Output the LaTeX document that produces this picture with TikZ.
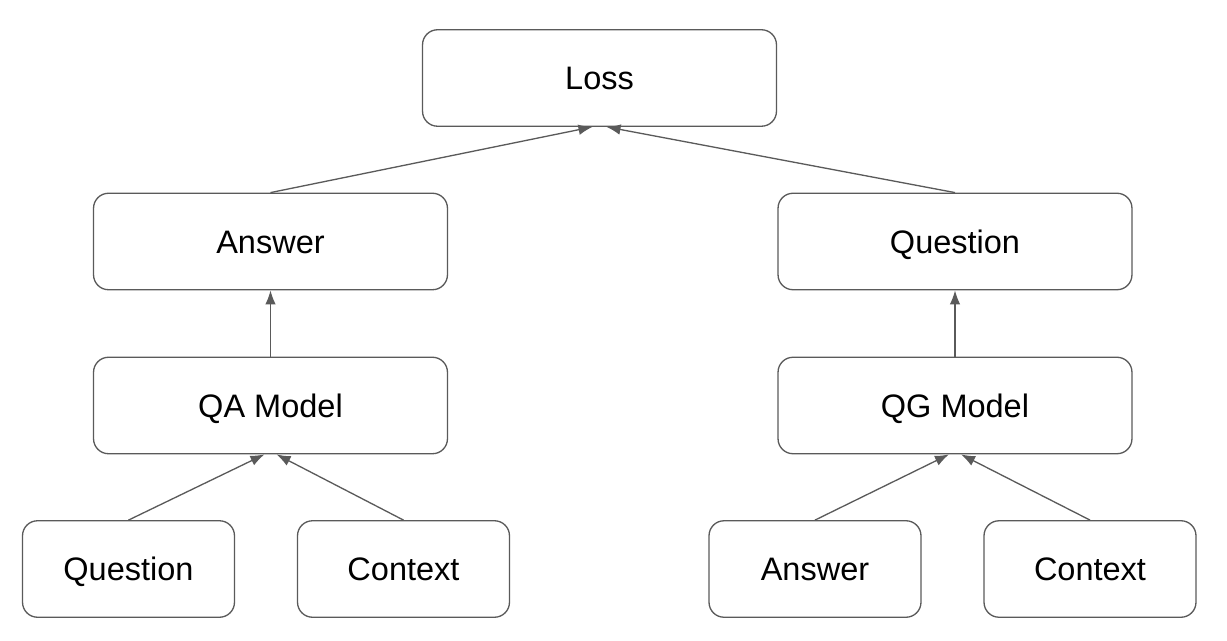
\documentclass[tikz,border=0pt]{standalone}
\usepackage{fontspec}
\setmainfont{Liberation Sans}
\usepackage{tikz}
\usetikzlibrary{arrows.meta}

\definecolor{edgegray}{HTML}{5A5A5A}

\tikzset{
    box/.style={draw=edgegray, line width=0.75pt, rounded corners=0.3cm,
        minimum width=7.08cm, minimum height=1.93cm, inner sep=0pt,
        text height=13.2pt, text depth=0pt,
        font=\fontsize{18.5}{22}\selectfont},
    smallbox/.style={box, minimum width=4.24cm},
    link/.style={draw=edgegray, line width=0.75pt}
}

\begin{document}
\begin{tikzpicture}[x=0.02cm, y=-0.02cm]

    \useasboundingbox (0,0) rectangle (1227,641);

    \node[box] (loss) at (599.5,78) {Loss};

    \node[box] (answer) at (270.5,241.5) {Answer};
    \node[box] (question) at (955,241.5) {Question};

    \node[box] (qamodel) at (270.5,405.5) {QA Model};
    \node[box] (qgmodel) at (955,405.5) {QG Model};

    \node[smallbox] (qainq) at (128.5,569) {Question};
    \node[smallbox] (qainc) at (403.5,569) {Context};
    \node[smallbox] (qgina) at (815,569) {Answer};
    \node[smallbox] (qginc) at (1090,569) {Context};

    \draw[link,->,>={Latex[length=8pt,width=6pt]}] (answer.north) -- ([xshift = -0.14cm]loss.south);
    \draw[link,->,>={Latex[length=8pt,width=6pt]}] (question.north) -- ([xshift = 0.14cm]loss.south);
    \draw[link,->,>={Latex[length=8pt,width=6pt]}] (qamodel) -- (answer);
    \draw[link,->,>={Latex[length=8pt,width=6pt]}] (qgmodel) -- (question);
    \draw[link,->,>={Latex[length=8pt,width=6pt]}] (qainq.north) -- ([xshift = -0.12cm]qamodel.south);
    \draw[link,->,>={Latex[length=8pt,width=6pt]}] (qainc.north) -- ([xshift = 0.12cm]qamodel.south);
    \draw[link,->,>={Latex[length=8pt,width=6pt]}] (qgina.north) -- ([xshift = -0.12cm]qgmodel.south);
    \draw[link,->,>={Latex[length=8pt,width=6pt]}] (qginc.north) -- ([xshift = 0.12cm]qgmodel.south);
\end{tikzpicture}
\end{document}
